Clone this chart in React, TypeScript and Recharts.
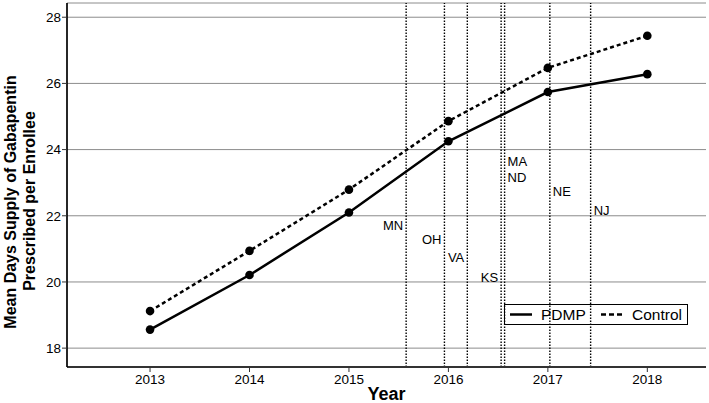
import React from 'react';
import {
  ComposedChart,
  Line,
  XAxis,
  YAxis,
  CartesianGrid,
  ReferenceLine,
  ReferenceDot,
  Legend,
} from 'recharts';

// ---- data ----
const years = [2013, 2014, 2015, 2016, 2017, 2018];
const pdmpValues = [18.56, 20.21, 22.1, 24.25, 25.74, 26.28];
const controlValues = [19.12, 20.94, 22.79, 24.86, 26.47, 27.44];
const yTicks = [18, 20, 22, 24, 26, 28];
const xTicks = [2013, 2014, 2015, 2016, 2017, 2018];

const policyStates = ['MN', 'OH', 'VA', 'KS', 'MA', 'ND', 'NE', 'NJ'];
const policyDates = [2015.575, 2015.96, 2016.19, 2016.53, 2016.565, 2016.565, 2017.02, 2017.43];
const policyLabelY = [21.72, 21.29, 20.75, 20.15, 23.63, 23.17, 22.74, 22.17];
const policyLabelSide = ['left', 'left', 'left', 'left', 'right', 'right', 'right', 'right'];

const seriesNames = ['PDMP', 'Control'];

const tableData = years.map((y, i) => ({ year: y, pdmp: pdmpValues[i], control: controlValues[i] }));
const referenceDates = Array.from(new Set(policyDates));

const FONT = '"Liberation Sans", Arial, sans-serif';

const YTitle = () => (
  <g>
    <text
      x={15.5}
      y={202}
      transform="rotate(-90 15.5 202)"
      textAnchor="middle"
      fontFamily={FONT}
      fontWeight="bold"
      fontSize={16}
      fill="#000"
    >
      Mean Days Supply of Gabapentin
    </text>
    <text
      x={35}
      y={201}
      transform="rotate(-90 35 201)"
      textAnchor="middle"
      fontFamily={FONT}
      fontWeight="bold"
      fontSize={16}
      fill="#000"
    >
      Prescribed per Enrollee
    </text>
  </g>
);

const LegendBox = () => (
  <svg width={184} height={21} style={{ display: 'block' }}>
    <rect x={0.5} y={0.5} width={183} height={20} fill="none" stroke="#000" strokeWidth={1} />
    <line x1={6} x2={28} y1={10.5} y2={10.5} stroke="#000" strokeWidth={2.5} />
    <text x={37} y={16} fontFamily={FONT} fontSize={15.5} fill="#000">
      {seriesNames[0]}
    </text>
    <line x1={97} x2={119} y1={10.5} y2={10.5} stroke="#000" strokeWidth={2.5} strokeDasharray="5 3" />
    <text x={128} y={16} fontFamily={FONT} fontSize={15.5} fill="#000">
      {seriesNames[1]}
    </text>
  </svg>
);

export default function App() {
  return (
    <div style={{ position: 'absolute', left: 0, top: 0, width: 709, height: 403, background: '#fff' }}>
      <ComposedChart
        width={709}
        height={403}
        data={tableData}
        margin={{ top: 3, right: 3, bottom: 0, left: 0 }}
        style={{ fontFamily: FONT }}
      >
        <CartesianGrid horizontal vertical={false} stroke="#8c8c8c" strokeWidth={1} />
        <XAxis
          dataKey="year"
          type="number"
          domain={[2012.165, 2018.59]}
          ticks={xTicks}
          allowDataOverflow
          height={36}
          tickSize={5}
          tickMargin={2}
          axisLine={{ stroke: '#333', strokeWidth: 2 }}
          tickLine={{ stroke: '#333', strokeWidth: 1 }}
          tick={{ fill: '#000', fontSize: 13.5, fontFamily: FONT }}
          label={{
            value: 'Year',
            position: 'insideBottom',
            offset: 3,
            style: { fontWeight: 'bold', fontSize: 18, fill: '#000', fontFamily: FONT },
          }}
        />
        <YAxis
          type="number"
          domain={[17.43, 28.43]}
          ticks={yTicks}
          allowDataOverflow
          width={67}
          tickSize={5}
          tickMargin={1}
          axisLine={{ stroke: '#000', strokeWidth: 1.7 }}
          tickLine={{ stroke: '#333', strokeWidth: 1 }}
          tick={{ fill: '#000', fontSize: 13.5, fontFamily: FONT }}
          label={<YTitle />}
        />
        {referenceDates.map((d) => (
          <ReferenceLine
            key={'rl' + d}
            x={d}
            stroke="#000"
            strokeWidth={1.4}
            strokeDasharray="1.4 1.6"
          />
        ))}
        {policyStates.map((s, i) => (
          <ReferenceDot
            key={'rd' + s}
            x={policyDates[i]}
            y={policyLabelY[i]}
            r={0}
            fill="none"
            stroke="none"
            label={{
              value: s,
              position: policyLabelSide[i] as any,
              offset: 3,
              style: { fill: '#000', fontSize: 13, fontFamily: FONT },
            }}
          />
        ))}
        <Line
          dataKey="pdmp"
          name={seriesNames[0]}
          stroke="#000"
          strokeWidth={2.5}
          dot={{ r: 4.3, fill: '#000', stroke: '#000', strokeWidth: 0 }}
          activeDot={false}
          isAnimationActive={false}
        />
        <Line
          dataKey="control"
          name={seriesNames[1]}
          stroke="#000"
          strokeWidth={2.5}
          strokeDasharray="4 3"
          dot={{ r: 4.3, fill: '#000', stroke: '#000', strokeWidth: 0, strokeDasharray: '' }}
          activeDot={false}
          isAnimationActive={false}
        />
        <Legend
          layout="horizontal"
          verticalAlign="middle"
          align="center"
          content={() => <LegendBox />}
          wrapperStyle={{ left: 504, top: 304, width: 184, height: 21 }}
        />
      </ComposedChart>
    </div>
  );
}
